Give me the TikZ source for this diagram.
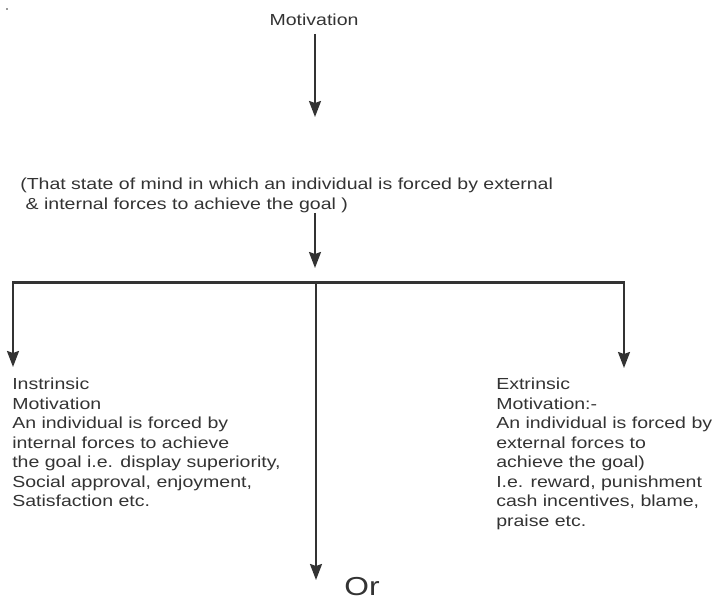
\documentclass[tikz,border=0pt]{standalone}
\usepackage{fontspec}
\setmainfont{Liberation Sans}[FakeStretch=1.22]
\usetikzlibrary{arrows.meta}

\definecolor{inkgray}{HTML}{333333}

\tikzset{
  txt/.style={inner sep=0pt, text=inkgray, align=left, font=\fontsize{12}{14.6}\selectfont},
  link/.style={line width=1.5pt, draw=inkgray, -{Stealth[length=12pt, width=9pt, inset=1.5pt]}},
}

\begin{document}
\begin{tikzpicture}[x=0.75pt, y=-0.75pt]
    \useasboundingbox (0,0) rectangle (715,602);

    % Speck in the corner
    \fill[inkgray] (7,9) circle (0.8);

    % Title and definition
    \node[txt] (mot) at (314,20) {Motivation};
    \node[txt, anchor=north west] (def) at (20,178)
        {(That state of mind in which an individual is forced by external\\
         \ \& internal forces to achieve the goal )};
    \coordinate (top1) at (315,34);
    \coordinate (tip1) at (315,117);
    \coordinate (top2) at (315,213);
    \coordinate (tip2) at (315,268);
    \draw[link] (top1) -- (tip1);
    \draw[link] (top2) -- (tip2);

    % Branch bar
    \coordinate (barL) at (12,283);
    \coordinate (barM) at (316,283);
    \coordinate (barR) at (625,283);
    \draw[line width=2.25pt, draw=inkgray] (barL) -- (barR);

    % Two kinds of motivation
    \node[txt, anchor=north west] (intr) at (12,378)
        {Instrinsic\\
         Motivation\\
         An individual is forced by\\
         internal forces to achieve\\
         the goal i.e. display superiority,\\
         Social approval, enjoyment,\\
         Satisfaction etc.};
    \node[txt, anchor=north west] (extr) at (496,378)
        {Extrinsic\\
         Motivation:-\\
         An individual is forced by\\
         external forces to\\
         achieve the goal)\\
         I.e. reward, punishment\\
         cash incentives, blame,\\
         praise etc.};
    \node[txt, font=\fontsize{19.5}{22}\selectfont] (orn) at (362,587) {Or};

    \coordinate (tipL) at (13,367);
    \coordinate (tipR) at (624,368);
    \coordinate (tipM) at (316,580);
    \draw[link] (13,283) -- (tipL);
    \draw[link] (624,283) -- (tipR);
    \draw[link] (barM) -- (tipM);
\end{tikzpicture}
\end{document}
